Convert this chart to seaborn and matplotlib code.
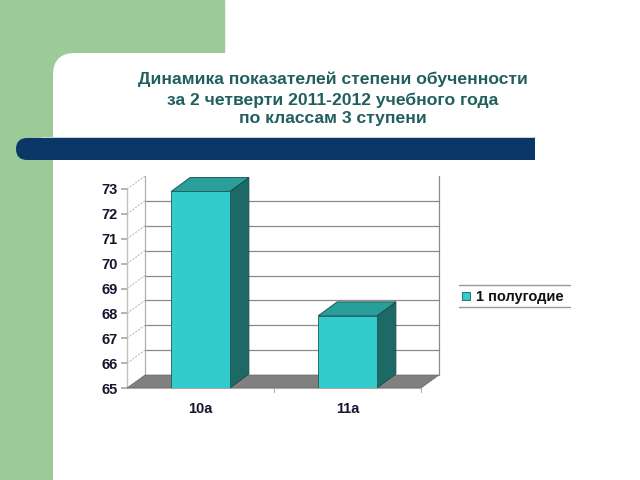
import matplotlib
matplotlib.use("Agg")
import matplotlib.pyplot as plt
import matplotlib.patches as mpatches
import matplotlib.transforms as mtransforms
from matplotlib.lines import Line2D
import seaborn as sns
import pandas as pd

# ---- data ----
title_lines = ["Динамика показателей степени обученности",
               "за 2 четверти 2011-2012 учебного года",
               "по классам 3 ступени"]
classes = ["10а", "11а"]
values = [72.9, 67.9]
series_name = "1 полугодие"
y_ticks = [65, 66, 67, 68, 69, 70, 71, 72, 73]

sns.set_theme(style="white")
plt.rcParams['font.family'] = ['Liberation Sans', 'DejaVu Sans']

W, H = 640, 480
fig = plt.figure(figsize=(6.4, 4.8), dpi=100)
fig.patch.set_facecolor("white")
ident = mtransforms.IdentityTransform()
GREEN = "#9ccb98"

def px(x, y):
    return (x, H - y)

# green background shapes
fig.patches.append(mpatches.Rectangle((0, 0), 53, H, transform=ident, color=GREEN, zorder=-5))
fig.patches.append(mpatches.Rectangle(px(0, 80), 224, 80, transform=ident, color=GREEN, zorder=-5))
fig.patches.append(mpatches.FancyBboxPatch((53, -50), 700, H - 53 + 50, transform=ident,
                                           boxstyle="round,pad=0,rounding_size=22",
                                           facecolor="white", edgecolor="none", zorder=-4))

# dark blue band
fig.patches.append(mpatches.FancyBboxPatch(px(16, 160), 519, 22, transform=ident,
                                           boxstyle="round,pad=0,rounding_size=11",
                                           facecolor="#0b3766", edgecolor="none", zorder=-3))
fig.patches.append(mpatches.Rectangle(px(300, 160), 235, 22, transform=ident,
                                      facecolor="#0b3766", edgecolor="none", zorder=-3))
fig.add_artist(Line2D([41 / W, 535 / W], [(H - 137) / H] * 2, color="#c8d4e0", lw=0.8, zorder=-3))

# title
for i, (t, yy) in enumerate(zip(title_lines, [79, 100, 119])):
    fig.text(333 / W, (H - yy) / H, t, ha="center", va="center", fontsize=12.6,
             fontweight="bold", color="#215f5f")

# ---- chart ----
ax = fig.add_axes([127 / W, (H - 388) / H, 294 / W, 199 / H])
ax.set_zorder(1)
ax.patch.set_visible(False)
df = pd.DataFrame({"Класс": classes, "Значение": values})
sns.barplot(data=df, x="Класс", y="Значение", width=0.4, color="#33cccc",
            saturation=1, edgecolor="#1c5a5a", linewidth=0.6, ax=ax, zorder=3)
ax.set_xlim(-0.5, 1.5)
ax.set_ylim(y_ticks[0], y_ticks[-1])
ax.set_yticks(y_ticks)
ax.set_xlabel("")
ax.set_ylabel("")
for s in ax.spines.values():
    s.set_visible(False)
ax.tick_params(axis="y", labelsize=10.5, labelcolor="#15152e", length=4, color="#aaaaaa", pad=3, left=True)
ax.tick_params(axis="x", labelsize=10.5, labelcolor="#15152e", length=0, pad=10)
for lab in ax.get_yticklabels() + ax.get_xticklabels():
    lab.set_fontweight("bold")

DX, DY = 18 / 147, 13 / 24.9
BDX, BDY = 19 / 147, 14 / 24.9
y0, y1 = y_ticks[0], y_ticks[-1]
x0, x1 = -0.5, 1.5
grid_c = "#8a8a8a"

# back wall grid lines (no line at the top of the wall)
for yv in y_ticks[1:]:
    if yv < y1:
        ax.plot([x0 + DX, x1 + DX], [yv + DY, yv + DY], color=grid_c, lw=0.9, zorder=0.5, clip_on=False)
    ax.plot([x0, x0 + DX], [yv, yv + DY], color="#b0b0b0", lw=0.7, ls=(0, (2, 1.5)), zorder=0.5, clip_on=False)
ax.plot([x0 + DX, x0 + DX], [y0 + DY, y1 + DY], color="#b0b0b0", lw=0.9, zorder=0.5, clip_on=False)
ax.plot([x1 + DX, x1 + DX], [y0 + DY, y1 + DY], color=grid_c, lw=0.9, zorder=0.5, clip_on=False)
ax.plot([x0, x0], [y0, y1], color="#c0c0c0", lw=1.0, zorder=0.6, clip_on=False)

# floor
floor = mpatches.Polygon([(x0, y0), (x1, y0), (x1 + DX, y0 + DY), (x0 + DX, y0 + DY)],
                         closed=True, facecolor="#808080", edgecolor="#666666", lw=0.5,
                         zorder=1, clip_on=False)
ax.add_patch(floor)
ax.plot([x0, x1], [y0, y0], color="#aaaaaa", lw=0.8, zorder=1.1, clip_on=False)
for xv in [0.5, 1.5]:
    ax.plot([xv, xv], [y0, y0 - 0.15], color="#aaaaaa", lw=0.8, zorder=1.1, clip_on=False)

# 3D bar faces
for p in list(ax.patches):
    if not isinstance(p, mpatches.Rectangle) or p.get_height() <= 0:
        continue
    xl = p.get_x()
    xr = xl + p.get_width()
    v = p.get_y() + p.get_height()
    side = mpatches.Polygon([(xr, y0), (xr, v), (xr + BDX, v + BDY), (xr + BDX, y0 + BDY)],
                            closed=True, facecolor="#1d6966", edgecolor="#164a4a", lw=0.6,
                            zorder=2.9, clip_on=False)
    top = mpatches.Polygon([(xl, v), (xr, v), (xr + BDX, v + BDY), (xl + BDX, v + BDY)],
                           closed=True, facecolor="#2a9e9b", edgecolor="#164a4a", lw=0.6,
                           zorder=2.9, clip_on=False)
    ax.add_patch(side)
    ax.add_patch(top)

# legend
fig.add_artist(Line2D([459 / W, 570 / W], [(H - 285) / H] * 2, color="#999999", lw=1.0))
fig.add_artist(Line2D([459 / W, 570 / W], [(H - 307) / H] * 2, color="#999999", lw=1.0))
fig.patches.append(mpatches.Rectangle(px(462, 300), 8, 8, transform=ident,
                                      facecolor="#33cccc", edgecolor="#1c5a5a", lw=0.6, zorder=3))
fig.text(476 / W, (H - 296.5) / H, series_name, ha="left", va="center", fontsize=10.5,
         fontweight="bold", color="#111111")

fig.savefig("out.png", dpi=100)
